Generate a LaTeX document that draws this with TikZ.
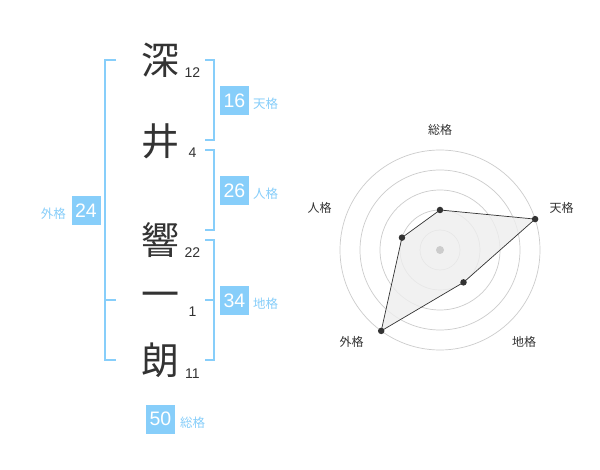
\documentclass[tikz,border=0pt]{standalone}
\usepackage{fontspec}
\setmainfont{Liberation Sans}
\newfontfamily\jp{Noto Sans CJK JP}
\usetikzlibrary{calc}
\definecolor{sky}{HTML}{87CEFA}
\definecolor{ink}{HTML}{333333}
\definecolor{ring}{HTML}{CCCCCC}
\definecolor{area}{HTML}{EEEEEE}
\tikzset{
  kanji/.style={font=\jp\fontsize{38}{38}\selectfont, text=ink, inner sep=0pt},
  strokes/.style={font=\fontsize{14}{14}\selectfont, text=ink, inner sep=0pt, anchor=base},
  numbox/.style={fill=sky, text=white, minimum size=29pt, inner sep=0pt, font=\fontsize{19.5}{19.5}\selectfont},
  tag/.style={text=sky, font=\jp\fontsize{12.5}{13}\selectfont, inner sep=0pt},
  bracket/.style={draw=sky, line width=1.6pt},
  axislabel/.style={text=ink, font=\jp\fontsize{12}{12}\selectfont, inner sep=0pt},
  ringline/.style={draw=ring, line width=0.7pt},
  dot/.style={circle, fill=ink, inner sep=0pt, minimum size=6.5pt}
}
\begin{document}
\begin{tikzpicture}[x=1pt,y=-1pt]
\useasboundingbox (0,0) rectangle (600,470);
\fill[white] (0,0) rectangle (600,470);

% brackets
\draw[bracket] (116,60) -- (105,60) -- (105,360) -- (116,360);
\draw[bracket] (105,300) -- (116,300);
\draw[bracket] (205,60) -- (214,60) -- (214,140) -- (205,140);
\draw[bracket] (205,150) -- (214,150) -- (214,230) -- (205,230);
\draw[bracket] (205,240) -- (214,240) -- (214,360) -- (205,360);
\draw[bracket] (205,300) -- (214,300);

% kanji
\node[kanji] (k1) at (160,60) {深};
\node[kanji] (k2) at (160,141) {井};
\node[kanji] (k3) at (160,240) {響};
\node[kanji] (k4) at (160,300) {一};
\node[kanji] (k5) at (160,360) {朗};

% stroke counts
\node[strokes] (s1) at (192.5,78) {12};
\node[strokes] (s2) at (192.5,158) {4};
\node[strokes] (s3) at (192.5,258) {22};
\node[strokes] (s4) at (192.5,317) {1};
\node[strokes] (s5) at (192.5,378) {11};

% totals
\node[numbox] (ten) at (234.5,100.5) {16};
\node[tag, anchor=west] (tenl) at (253,104) {天格};
\node[numbox] (jin) at (234.5,190.5) {26};
\node[tag, anchor=west] (jinl) at (253,194) {人格};
\node[numbox] (chi) at (234.5,300.5) {34};
\node[tag, anchor=west] (chil) at (253,304) {地格};
\node[numbox] (gai) at (86,210.5) {24};
\node[tag, anchor=east] (gail) at (66,214) {外格};
\node[numbox] (sou) at (160.5,419) {50};
\node[tag, anchor=west] (soul) at (180,422.5) {総格};

% radar
\coordinate (c) at (440,250);
\foreach \r in {20,40,60,80,100} \draw[ringline] (c) circle[radius=\r pt];
\coordinate (p1) at ($(c)+(90:40pt)$);
\coordinate (p2) at ($(c)+(18:100pt)$);
\coordinate (p3) at ($(c)+(-54:40pt)$);
\coordinate (p4) at ($(c)+(-126:100pt)$);
\coordinate (p5) at ($(c)+(162:40pt)$);
\filldraw[fill=area, fill opacity=0.8, draw=ink, line width=0.7pt] (p1) -- (p2) -- (p3) -- (p4) -- (p5) -- cycle;
\node[circle, fill=ring, inner sep=0pt, minimum size=8pt] (cd) at (c) {};
\foreach \p in {p1,p2,p3,p4,p5} \node[dot] at (\p) {};

\node[axislabel] (a1) at (440,130) {総格};
\node[axislabel] (a2) at (561.5,208) {天格};
\node[axislabel] (a3) at (524,342) {地格};
\node[axislabel] (a4) at (351.5,342) {外格};
\node[axislabel] (a5) at (319.5,208) {人格};
\end{tikzpicture}
\end{document}
